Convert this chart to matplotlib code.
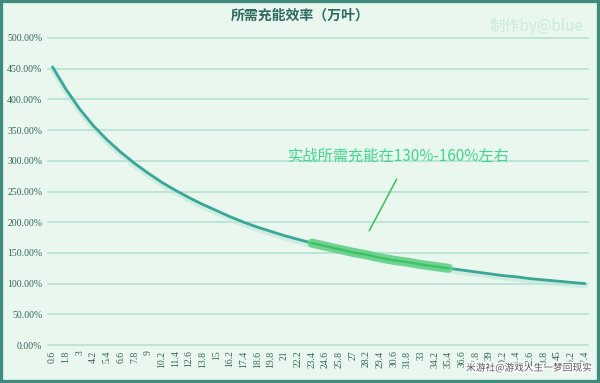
import numpy as np
import matplotlib
matplotlib.use('Agg')
import matplotlib.pyplot as plt
import matplotlib.patheffects as pe
from matplotlib.patches import Rectangle

plt.rcParams['font.family'] = ['Noto Sans CJK SC', 'DejaVu Sans']

# x categories (labels) and required energy recharge
x_labels = ['0.6', '1.8', '3', '4.2', '5.4', '6.6', '7.8', '9', '10.2', '11.4',
            '12.6', '13.8', '15', '16.2', '17.4', '18.6', '19.8', '21', '22.2',
            '23.4', '24.6', '25.8', '27', '28.2', '29.4', '30.6', '31.8', '33',
            '34.2', '35.4', '36.6', '37.8', '39', '40.2', '41.4', '42.6', '43.8',
            '45', '46.2', '47.4']
recharge = [4.53, 4.16, 3.84, 3.57, 3.34, 3.14, 2.96, 2.80, 2.65, 2.52,
            2.40, 2.29, 2.19, 2.09, 2.00, 1.92, 1.85, 1.78, 1.72, 1.66,
            1.61, 1.56, 1.51, 1.47, 1.42, 1.38, 1.35, 1.31, 1.28, 1.25,
            1.22, 1.19, 1.16, 1.13, 1.11, 1.08, 1.06, 1.04, 1.02, 1.00]
hl_start, hl_end = 19, 29   # 实战区间 (约160% -> 130%)
y_ticks = [0, 0.5, 1, 1.5, 2, 2.5, 3, 3.5, 4, 4.5, 5]

bg = '#e9f7ef'
txt = '#34675c'

fig = plt.figure(figsize=(6, 3.83), dpi=100)
fig.patch.set_facecolor(bg)
ax = fig.add_axes([0.08, 0.0992, 0.9, 0.8016])
ax.set_facecolor(bg)

xs = np.arange(len(recharge))
vals = np.array(recharge)

# soft shadow under the curve
ax.plot(xs, vals - 0.035, color='#bfe8d9', lw=4, alpha=0.6, zorder=2,
        solid_capstyle='round', solid_joinstyle='round')
ax.plot(xs, vals, color='#3aa796', lw=2.0, zorder=3, solid_capstyle='round',
        solid_joinstyle='round')

# highlighted range
seg = slice(hl_start, hl_end + 1)
ax.plot(xs[seg], vals[seg], color='#62d186', lw=6.5, alpha=0.9, zorder=4,
        solid_capstyle='round', solid_joinstyle='round')
ax.plot(xs[seg], vals[seg], color='#3fbf68', lw=1.5, zorder=5)

ax.set_xlim(-0.33, 39.22)
ax.set_ylim(0, 5)
ax.set_yticks(y_ticks)
ax.set_yticklabels(['%.2f%%' % (v * 100) for v in y_ticks],
                   family='Liberation Serif', fontsize=7, color=txt)
ax.set_xticks(xs)
ax.set_xticklabels(x_labels, rotation=90, family='Liberation Serif',
                   fontsize=7, color=txt)
ax.tick_params(length=0, pad=4)
ax.grid(axis='y', color='#b0dfcf', lw=1.1)
for gl in ax.get_ygridlines():
    gl.set_clip_on(False)
ax.set_axisbelow(True)
for s in ax.spines.values():
    s.set_visible(False)

# annotation
ax.annotate('', xy=(23.1, 1.82), xytext=(25.3, 2.74),
            arrowprops=dict(arrowstyle='-', color='#2fc45a', lw=1.1))
ax.text(25.4, 3.08, '实战所需充能在130%-160%左右', fontsize=11,
        color='#3fd88a', ha='center', va='center')

fig.text(0.5, 0.958, '所需充能效率（万叶）', ha='center', va='center',
         fontsize=10, fontweight='bold', color='#2f6b60')
fig.text(0.893, 0.93, '制作by@blue', ha='center', va='center',
         fontsize=11, color='#c9ecdc')
fig.text(0.987, 0.04, '米游社@游戏人生一梦回现实', ha='right', va='center',
         fontsize=7, color='#555555',
         path_effects=[pe.withStroke(linewidth=2, foreground='white')])

fig.patches.append(Rectangle((0, 0), 1, 1, transform=fig.transFigure,
                             fill=False, edgecolor='#3f8b7d', lw=4.5))

fig.savefig('out.png', dpi=100, facecolor=bg)
